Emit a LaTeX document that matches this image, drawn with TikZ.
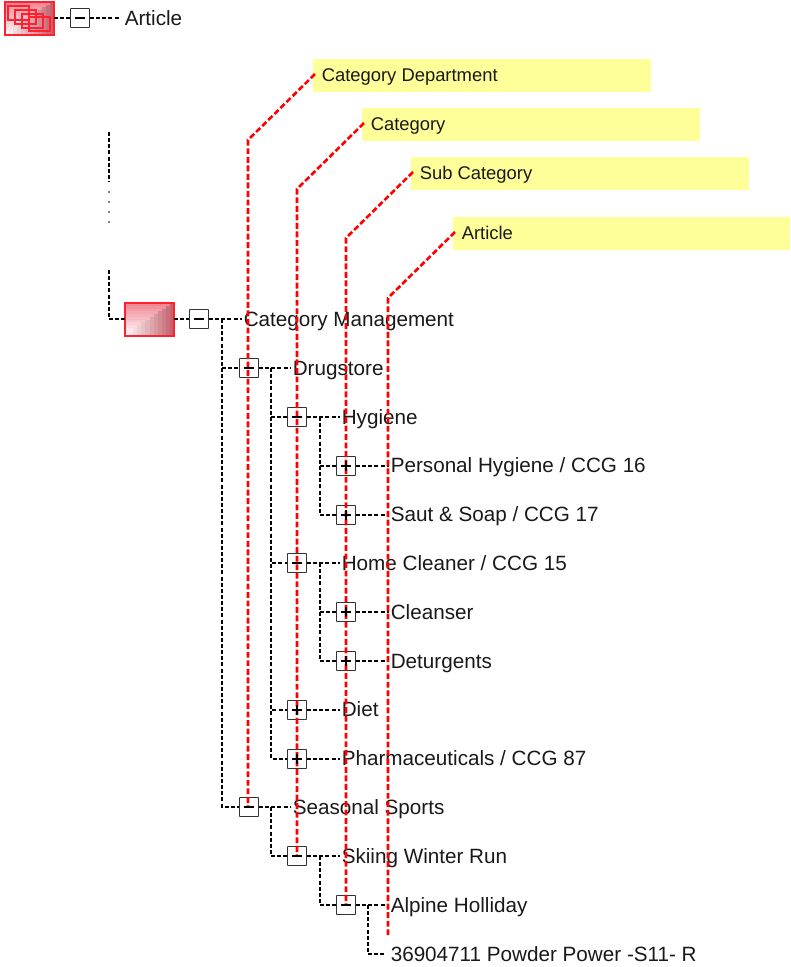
\documentclass[tikz,border=0pt]{standalone}
\usepackage{fontspec}
\setmainfont{Liberation Sans}
\definecolor{notey}{HTML}{FFFF99}
\definecolor{icotop}{HTML}{F08894}
\definecolor{icoright}{HTML}{C4626E}
\definecolor{iconbord}{HTML}{FF2030}
\tikzset{
  x=0.75pt,y=-0.75pt,
  wire/.style={black,line width=0.8pt,dash pattern=on 3pt off 1.6pt},
  redline/.style={red,line width=1.95pt,dash pattern=on 4.4pt off 2pt},
  lbl/.style={anchor=base west,inner sep=0pt,font=\fontsize{15.5}{18}\selectfont,text=black!90},
  notebox/.style={fill=notey,anchor=north west,inner sep=0pt,minimum height=24.75pt},
  notetxt/.style={anchor=base west,inner sep=0pt,font=\fontsize{13.8}{16}\selectfont,text=black!90},
  tog/.style={draw=black!80,fill=white,line width=0.7pt,minimum size=14.25pt,inner sep=0pt,rounded corners=0.4pt},
}
\newcommand{\togminus}[1]{\draw[black,line width=1.6pt] ([xshift=-3.4pt]#1.center) -- ([xshift=3.4pt]#1.center);}
\newcommand{\togplus}[1]{\draw[black,line width=1.6pt] ([xshift=-3.4pt]#1.center) -- ([xshift=3.4pt]#1.center) ([yshift=-3.4pt]#1.center) -- ([yshift=3.4pt]#1.center);}
% gradient icon: x0 y0 (top left in px), w, h; nested L-shaped bands
\newcommand{\gradbox}[4]{%
  \foreach \k in {0,...,11}{
    \pgfmathsetmacro{\mix}{100-\k*8.6}
    \pgfmathsetmacro{\ww}{#3*(1-\k/12)}
    \pgfmathsetmacro{\hh}{#4*(1-\k/12)}
    \pgfmathsetmacro{\ss}{#3/12}
    \fill[icotop!\mix!white] (#1,#2+#4) rectangle ++(\ww,-\hh);
    \fill[icoright!\mix!white] (#1+\ww-\ss,#2+#4) rectangle ++(\ss,-\hh);
  }
  \draw[iconbord,line width=1.3pt] (#1,#2) rectangle ++(#3,#4);
}
\begin{document}
\begin{tikzpicture}
\useasboundingbox (0,0) rectangle (790,967);
% top icon
\gradbox{5}{2}{49}{33}
\foreach \xa/\ya in {8/6,15/10,22/14,29/17}{
  \draw[iconbord,line width=1pt] (\xa,\ya) rectangle ++(21,14);
}
\coordinate (topend) at (54,18);
\node[tog] (t0) at (80,18) {};
\node[lbl] (art) at (124.5,25) {Article};
\draw[wire] (topend) -- (t0);
\draw[wire] (t0) -- ([xshift=-3pt]art.west |- t0);
\togminus{t0}
% vertical ellipsis
\coordinate (va) at (109,132);
\coordinate (vb) at (109,182);
\draw[wire] (va) -- (vb);
\coordinate (d1) at (109,192);
\coordinate (d2) at (109,202);
\coordinate (d3) at (109,212);
\coordinate (d4) at (109,222);
\foreach \p in {d1,d2,d3,d4}{\fill[black] (\p) circle (0.7pt);}
% root
\coordinate (rt) at (109,270);
\gradbox{125}{303}{49}{33}
\coordinate (rl) at (125,319);
\coordinate (rr) at (174,319);
\draw[wire] (rt) |- (rl);
% nodes
\node[tog] (n0) at (199,319) {};
\node[lbl] (l0) at (243.5,326) {Category Management};
\node[tog] (n1) at (249,368) {};
\node[lbl] (l1) at (292.5,375) {Drugstore};
\node[tog] (n2) at (297,417) {};
\node[lbl] (l2) at (341.5,424) {Hygiene};
\node[tog] (n3) at (346,466) {};
\node[lbl] (l3) at (390.5,472) {Personal Hygiene / CCG 16};
\node[tog] (n4) at (346,515) {};
\node[lbl] (l4) at (390.5,521) {Saut \& Soap / CCG 17};
\node[tog] (n5) at (297,563) {};
\node[lbl] (l5) at (341.5,570) {Home Cleaner / CCG 15};
\node[tog] (n6) at (346,612) {};
\node[lbl] (l6) at (390.5,619) {Cleanser};
\node[tog] (n7) at (346,661) {};
\node[lbl] (l7) at (390.5,668) {Deturgents};
\node[tog] (n8) at (297,710) {};
\node[lbl] (l8) at (341.5,716) {Diet};
\node[tog] (n9) at (297,759) {};
\node[lbl] (l9) at (341.5,765) {Pharmaceuticals / CCG 87};
\node[tog] (n10) at (249,807) {};
\node[lbl] (l10) at (292.5,814) {Seasonal Sports};
\node[tog] (n11) at (297,856) {};
\node[lbl] (l11) at (341.5,863) {Skiing Winter Run};
\node[tog] (n12) at (346,905) {};
\node[lbl] (l12) at (390.5,912) {Alpine Holliday};
\node[lbl] (l13) at (390.5,961) {36904711 Powder Power -S11- R};
% horizontal connectors
\draw[wire] (rr) -- (n0);
\foreach \a/\b in {n0/l0,n1/l1,n2/l2,n3/l3,n4/l4,n5/l5,n6/l6,n7/l7,n8/l8,n9/l9,n10/l10,n11/l11,n12/l12}{
  \draw[wire] (\a.east) -- ([xshift=-1pt]\b.west |- \a.east);
}
% tree branches
\coordinate (b0) at (222,319);
\draw[wire] (b0) |- (n1.west);
\draw[wire] (b0) |- (n10.west);
\coordinate (b1) at (271,368);
\foreach \t in {n2,n5,n8,n9}{\draw[wire] (b1) |- (\t.west);}
\coordinate (b2) at (320,417);
\foreach \t in {n3,n4}{\draw[wire] (b2) |- (\t.west);}
\coordinate (b5) at (320,563);
\foreach \t in {n6,n7}{\draw[wire] (b5) |- (\t.west);}
\coordinate (b10) at (271,807);
\draw[wire] (b10) |- (n11.west);
\coordinate (b11) at (320,856);
\draw[wire] (b11) |- (n12.west);
\coordinate (b12) at (368,905);
\coordinate (e13) at (384,954);
\draw[wire] (b12) |- (e13);
% note boxes
\node[notebox,minimum width=253.5pt] (c1) at (313,59) {};
\node[notebox,minimum width=253.5pt] (c2) at (362,108) {};
\node[notebox,minimum width=253.5pt] (c3) at (411,157) {};
\node[notebox,minimum width=252.75pt] (c4) at (453,217) {};
\node[notetxt] (c1t) at (321.5,81) {Category Department};
\node[notetxt] (c2t) at (370.5,130) {Category};
\node[notetxt] (c3t) at (419.5,179) {Sub Category};
\node[notetxt] (c4t) at (461.5,239) {Article};
% red lines
\coordinate (k1) at (248,140);\coordinate (f1) at (248,807);
\coordinate (k2) at (297,189);\coordinate (f2) at (297,856);
\coordinate (k3) at (346,238);\coordinate (f3) at (346,905);
\coordinate (k4) at (388,298);\coordinate (f4) at (388,937);
\coordinate (s1) at (315,74);
\coordinate (s2) at (364,123);
\coordinate (s3) at (413,172);
\coordinate (s4) at (455,232);
\draw[redline] (s1) -- (k1) -- (f1);
\draw[redline] (s2) -- (k2) -- (f2);
\draw[redline] (s3) -- (k3) -- (f3);
\draw[redline] (s4) -- (k4) -- (f4);
% toggle glyphs
\foreach \n in {n0,n1,n2,n5,n10,n11,n12}{\togminus{\n}}
\foreach \n in {n3,n4,n6,n7,n8,n9}{\togplus{\n}}
\end{tikzpicture}
\end{document}
